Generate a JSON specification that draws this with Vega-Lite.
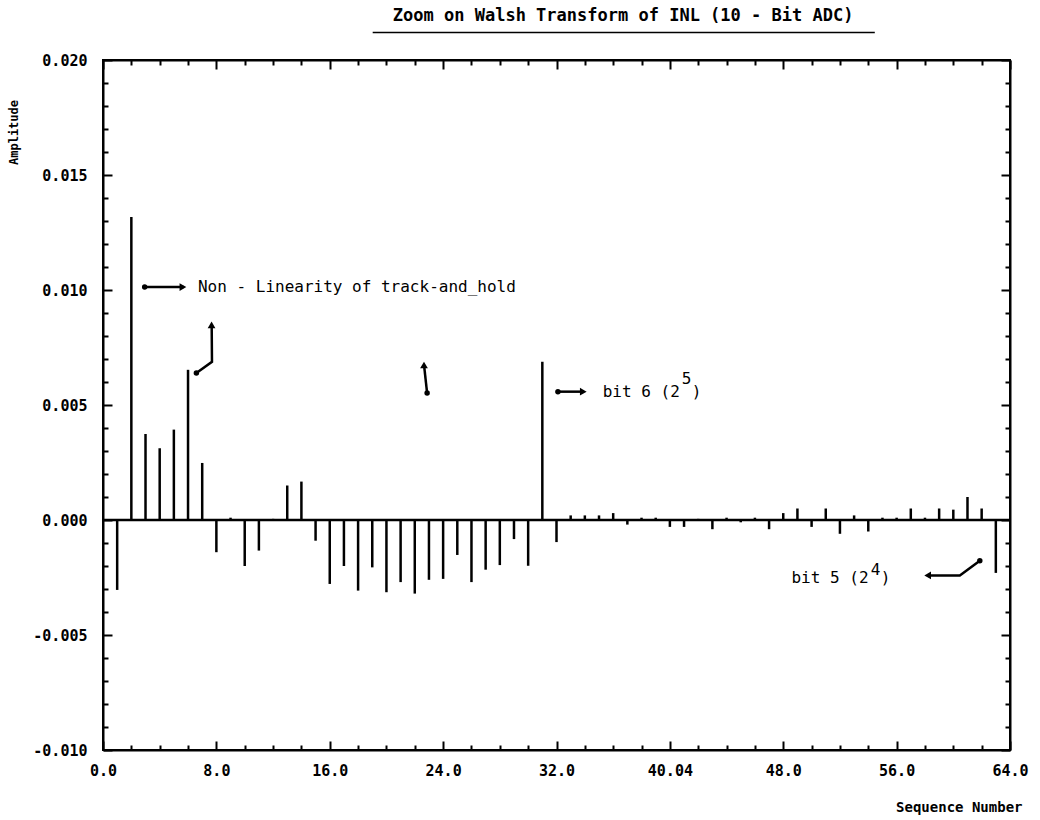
{
  "$schema": "https://vega.github.io/schema/vega-lite/v6.json",
  "width": 907,
  "height": 690,
  "autosize": "none",
  "padding": {"left": 103, "top": 60, "right": 30, "bottom": 70},
  "background": "white",
  "config": {
    "view": {"stroke": "black", "strokeWidth": 2},
    "font": "DejaVu Sans Mono"
  },
  "datasets": {
    "stems": [
      {"n": 1, "v": -0.00304}, {"n": 2, "v": 0.01317}, {"n": 3, "v": 0.00374}, {"n": 4, "v": 0.00312},
      {"n": 5, "v": 0.00393}, {"n": 6, "v": 0.00653}, {"n": 7, "v": 0.00248}, {"n": 8, "v": -0.0014},
      {"n": 9, "v": 0.0001}, {"n": 10, "v": -0.002}, {"n": 11, "v": -0.00133}, {"n": 12, "v": 0.00005},
      {"n": 13, "v": 0.0015}, {"n": 14, "v": 0.00167}, {"n": 15, "v": -0.0009}, {"n": 16, "v": -0.00278},
      {"n": 17, "v": -0.002}, {"n": 18, "v": -0.00307}, {"n": 19, "v": -0.00206}, {"n": 20, "v": -0.00314},
      {"n": 21, "v": -0.0027}, {"n": 22, "v": -0.0032}, {"n": 23, "v": -0.0026}, {"n": 24, "v": -0.00256},
      {"n": 25, "v": -0.00152}, {"n": 26, "v": -0.0027}, {"n": 27, "v": -0.00216}, {"n": 28, "v": -0.00196},
      {"n": 29, "v": -0.00083}, {"n": 30, "v": -0.00199}, {"n": 31, "v": 0.00688}, {"n": 32, "v": -0.00096},
      {"n": 33, "v": 0.0002}, {"n": 34, "v": 0.0002}, {"n": 35, "v": 0.0002}, {"n": 36, "v": 0.0003},
      {"n": 37, "v": -0.0002}, {"n": 38, "v": 0.0001}, {"n": 39, "v": 0.0001}, {"n": 40, "v": -0.0003},
      {"n": 41, "v": -0.0003}, {"n": 42, "v": 0.00005}, {"n": 43, "v": -0.0004}, {"n": 44, "v": 0.0001},
      {"n": 45, "v": -0.0001}, {"n": 46, "v": 0.0001}, {"n": 47, "v": -0.0004}, {"n": 48, "v": 0.0003},
      {"n": 49, "v": 0.0005}, {"n": 50, "v": -0.0003}, {"n": 51, "v": 0.0005}, {"n": 52, "v": -0.0006},
      {"n": 53, "v": 0.0002}, {"n": 54, "v": -0.0005}, {"n": 55, "v": 0.0001}, {"n": 56, "v": 0.0001},
      {"n": 57, "v": 0.0005}, {"n": 58, "v": 0.0001}, {"n": 59, "v": 0.0005}, {"n": 60, "v": 0.00045},
      {"n": 61, "v": 0.001}, {"n": 62, "v": 0.0005}, {"n": 63, "v": -0.0023}
    ],
    "arrows": [
      {"id": "a1", "ord": 1, "x": 2.94, "y": 0.01013}, {"id": "a1", "ord": 2, "x": 5.7, "y": 0.01013},
      {"id": "a2", "ord": 1, "x": 6.59, "y": 0.00639}, {"id": "a2", "ord": 2, "x": 7.69, "y": 0.00688}, {"id": "a2", "ord": 3, "x": 7.67, "y": 0.0084},
      {"id": "a3", "ord": 1, "x": 22.87, "y": 0.00552}, {"id": "a3", "ord": 2, "x": 22.66, "y": 0.0067},
      {"id": "a4", "ord": 1, "x": 32.1, "y": 0.00558}, {"id": "a4", "ord": 2, "x": 33.9, "y": 0.00558},
      {"id": "a5", "ord": 1, "x": 61.87, "y": -0.00177}, {"id": "a5", "ord": 2, "x": 60.46, "y": -0.00241}, {"id": "a5", "ord": 3, "x": 58.3, "y": -0.00241}
    ],
    "dots": [
      {"x": 2.94, "y": 0.01013}, {"x": 6.59, "y": 0.00639}, {"x": 22.87, "y": 0.00552},
      {"x": 32.1, "y": 0.00558}, {"x": 61.87, "y": -0.00177}
    ],
    "heads": [
      {"x": 5.64, "y": 0.01013, "dir": "right"}, {"x": 7.66, "y": 0.00848, "dir": "up"},
      {"x": 22.65, "y": 0.00674, "dir": "up"}, {"x": 33.89, "y": 0.00558, "dir": "right"},
      {"x": 58.19, "y": -0.00241, "dir": "left"}
    ],
    "texts": [
      {"x": 6.7, "y": 0.01013, "label": "Non - Linearity of track-and_hold"},
      {"x": 35.26, "y": 0.00557, "label": "bit 6 (2"},
      {"x": 40.84, "y": 0.00613, "label": "5"},
      {"x": 41.55, "y": 0.00557, "label": ")"},
      {"x": 48.58, "y": -0.00252, "label": "bit 5 (2"},
      {"x": 54.18, "y": -0.00216, "label": "4"},
      {"x": 54.88, "y": -0.00252, "label": ")"}
    ],
    "heading": [{"x": 36.7, "y": 0.02192, "label": "Zoom on Walsh Transform of INL (10 - Bit ADC)"}],
    "underline": [{"x": 19.03, "x2": 54.46, "y": 0.0212}],
    "zero": [{"z": 0}]
  },
  "resolve": {"axis": {"x": "independent", "y": "independent"}},
  "layer": [
    {
      "data": {"name": "stems"},
      "mark": {"type": "rule", "color": "black", "strokeWidth": 2.5},
      "encoding": {
        "x": {
          "field": "n", "type": "quantitative",
          "scale": {"domain": [0, 64], "nice": false, "zero": false},
          "axis": {
            "orient": "bottom",
            "values": [0,2,4,6,8,10,12,14,16,18,20,22,24,26,28,30,32,34,36,38,40,42,44,46,48,50,52,54,56,58,60,62,64],
            "labelExpr": "datum.value % 8 == 0 ? (datum.value == 40 ? '40.04' : format(datum.value, '.1f')) : ''",
            "tickSize": {"condition": {"test": "datum.value % 8 == 0", "value": -9}, "value": -5},
            "tickColor": "black", "tickWidth": 2,
            "domainColor": "black", "domainWidth": 2,
            "grid": false,
            "labelPadding": 22,
            "labelFont": "DejaVu Sans Mono", "labelFontSize": 15, "labelFontWeight": "bold", "labelColor": "black",
            "labelFlush": false, "labelOverlap": false, "labelBound": false,
            "title": "Sequence Number",
            "titleFont": "DejaVu Sans Mono", "titleFontSize": 14, "titleFontWeight": "bold", "titleColor": "black",
            "titleAlign": "right", "titleBaseline": "middle", "titleX": 919, "titleY": 57
          }
        },
        "y": {
          "field": "v", "type": "quantitative",
          "scale": {"domain": [-0.01, 0.02], "nice": false, "zero": false},
          "axis": {
            "orient": "left",
            "values": [-0.01,-0.009,-0.008,-0.007,-0.006,-0.005,-0.004,-0.003,-0.002,-0.001,0,0.001,0.002,0.003,0.004,0.005,0.006,0.007,0.008,0.009,0.01,0.011,0.012,0.013,0.014,0.015,0.016,0.017,0.018,0.019,0.02],
            "labelExpr": "abs(round(datum.value*1000)) % 5 == 0 ? (datum.value < -0.00001 ? '-' : '') + format(abs(datum.value), '.3f') : ''",
            "tickSize": {"condition": {"test": "abs(round(datum.value*1000)) % 5 == 0", "value": -9}, "value": -5},
            "tickColor": "black", "tickWidth": 2,
            "domainColor": "black", "domainWidth": 2,
            "grid": false,
            "labelPadding": 25,
            "labelFont": "DejaVu Sans Mono", "labelFontSize": 15, "labelFontWeight": "bold", "labelColor": "black",
            "labelFlush": false, "labelOverlap": false, "labelBound": false,
            "title": "Amplitude",
            "titleFont": "DejaVu Sans Mono", "titleFontSize": 12, "titleFontWeight": "bold", "titleColor": "black",
            "titleAngle": -90, "titleAlign": "center", "titleBaseline": "middle", "titleX": -90, "titleY": 72
          }
        },
        "y2": {"datum": 0}
      }
    },
    {
      "data": {"name": "stems"},
      "mark": {"type": "point", "opacity": 0},
      "encoding": {
        "x": {
          "field": "n", "type": "quantitative",
          "scale": {"domain": [0, 64], "nice": false, "zero": false},
          "axis": {
            "orient": "top",
            "values": [0,2,4,6,8,10,12,14,16,18,20,22,24,26,28,30,32,34,36,38,40,42,44,46,48,50,52,54,56,58,60,62,64],
            "labels": false, "title": null, "grid": false,
            "tickSize": {"condition": {"test": "datum.value % 8 == 0", "value": -9}, "value": -5},
            "tickColor": "black", "tickWidth": 2,
            "domainColor": "black", "domainWidth": 2
          }
        },
        "y": {
          "field": "v", "type": "quantitative",
          "scale": {"domain": [-0.01, 0.02], "nice": false, "zero": false},
          "axis": {
            "orient": "right",
            "values": [-0.01,-0.009,-0.008,-0.007,-0.006,-0.005,-0.004,-0.003,-0.002,-0.001,0,0.001,0.002,0.003,0.004,0.005,0.006,0.007,0.008,0.009,0.01,0.011,0.012,0.013,0.014,0.015,0.016,0.017,0.018,0.019,0.02],
            "labels": false, "title": null, "grid": false,
            "tickSize": {"condition": {"test": "abs(round(datum.value*1000)) % 5 == 0", "value": -9}, "value": -5},
            "tickColor": "black", "tickWidth": 2,
            "domainColor": "black", "domainWidth": 2
          }
        }
      }
    },
    {
      "data": {"name": "zero"},
      "mark": {"type": "rule", "color": "black", "strokeWidth": 2.5},
      "encoding": {
        "y": {"field": "z", "type": "quantitative", "scale": {"domain": [-0.01, 0.02], "nice": false, "zero": false}, "axis": null}
      }
    },
    {
      "data": {"name": "underline"},
      "mark": {"type": "rule", "color": "black", "strokeWidth": 1.5},
      "encoding": {
        "x": {"field": "x", "type": "quantitative", "scale": {"domain": [0, 64], "nice": false, "zero": false}, "axis": null},
        "x2": {"field": "x2"},
        "y": {"field": "y", "type": "quantitative", "scale": {"domain": [-0.01, 0.02], "nice": false, "zero": false}, "axis": null}
      }
    },
    {
      "data": {"name": "arrows"},
      "mark": {"type": "line", "color": "black", "strokeWidth": 2.5},
      "encoding": {
        "x": {"field": "x", "type": "quantitative", "scale": {"domain": [0, 64], "nice": false, "zero": false}, "axis": null},
        "y": {"field": "y", "type": "quantitative", "scale": {"domain": [-0.01, 0.02], "nice": false, "zero": false}, "axis": null},
        "detail": {"field": "id"},
        "order": {"field": "ord"}
      }
    },
    {
      "data": {"name": "dots"},
      "mark": {"type": "point", "filled": true, "color": "black", "size": 30, "opacity": 1},
      "encoding": {
        "x": {"field": "x", "type": "quantitative", "scale": {"domain": [0, 64], "nice": false, "zero": false}, "axis": null},
        "y": {"field": "y", "type": "quantitative", "scale": {"domain": [-0.01, 0.02], "nice": false, "zero": false}, "axis": null}
      }
    },
    {
      "data": {"name": "heads"},
      "mark": {"type": "point", "filled": true, "color": "black", "size": 60, "opacity": 1},
      "encoding": {
        "x": {"field": "x", "type": "quantitative", "scale": {"domain": [0, 64], "nice": false, "zero": false}, "axis": null},
        "y": {"field": "y", "type": "quantitative", "scale": {"domain": [-0.01, 0.02], "nice": false, "zero": false}, "axis": null},
        "shape": {"field": "dir", "type": "nominal", "scale": {"domain": ["right", "up", "left"], "range": ["triangle-right", "triangle-up", "triangle-left"]}, "legend": null}
      }
    },
    {
      "data": {"name": "texts"},
      "mark": {"type": "text", "align": "left", "baseline": "middle", "font": "DejaVu Sans Mono", "fontSize": 16, "color": "black"},
      "encoding": {
        "x": {"field": "x", "type": "quantitative", "scale": {"domain": [0, 64], "nice": false, "zero": false}, "axis": null},
        "y": {"field": "y", "type": "quantitative", "scale": {"domain": [-0.01, 0.02], "nice": false, "zero": false}, "axis": null},
        "text": {"field": "label"}
      }
    },
    {
      "data": {"name": "heading"},
      "mark": {"type": "text", "align": "center", "baseline": "middle", "font": "DejaVu Sans Mono", "fontSize": 17, "fontWeight": "bold", "color": "black"},
      "encoding": {
        "x": {"field": "x", "type": "quantitative", "scale": {"domain": [0, 64], "nice": false, "zero": false}, "axis": null},
        "y": {"field": "y", "type": "quantitative", "scale": {"domain": [-0.01, 0.02], "nice": false, "zero": false}, "axis": null},
        "text": {"field": "label"}
      }
    }
  ]
}
